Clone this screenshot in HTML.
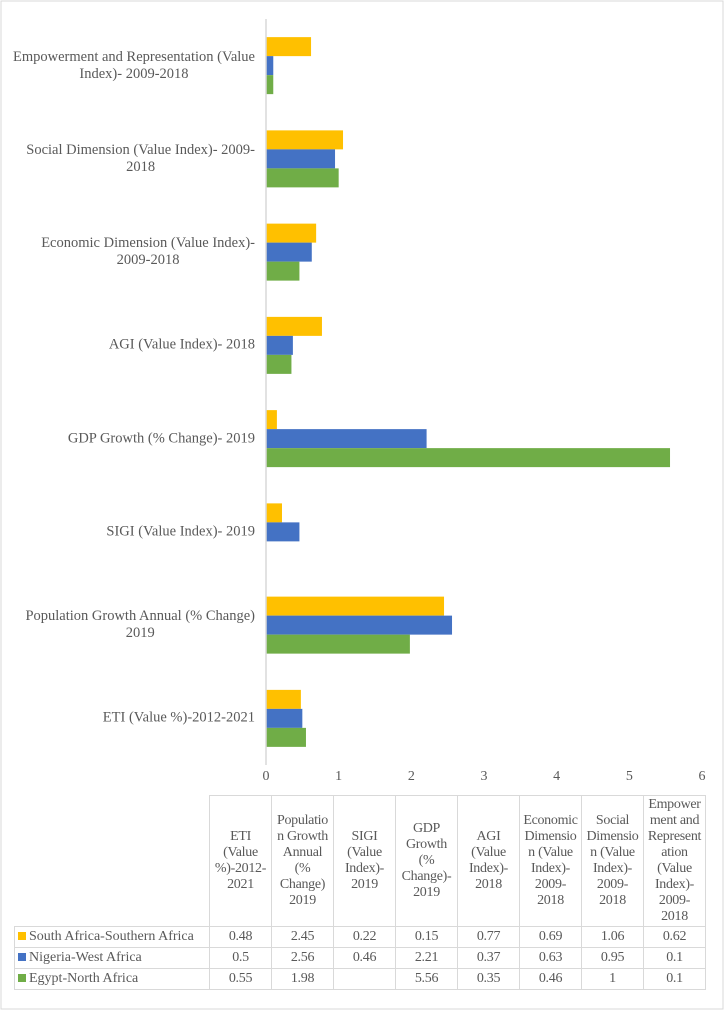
<!DOCTYPE html>
<html><head><meta charset="utf-8"><style>
body{margin:0;background:#fff;font-family:"Liberation Serif",serif;color:#595959}
#wrap{position:relative;width:724px;height:1010px;overflow:hidden}
.cat{position:absolute;right:469px;text-align:center;font-size:14.5px;line-height:17px;transform:translateY(-50%);white-space:nowrap}
table{position:absolute;left:14px;top:795px;border-collapse:collapse;font-size:14px;line-height:16px;table-layout:fixed;width:691px}
td{border:1.5px solid #d9d9d9;text-align:center;padding:0;color:#595959;white-space:nowrap;overflow:visible;letter-spacing:-0.3px}
td.lab{text-align:left;padding-left:3px;letter-spacing:0}
tr.h td{height:130px;vertical-align:middle}
tr.d td{height:20px}
.sw{display:inline-block;width:8px;height:8px;margin-right:3px}
</style></head><body>
<div id="wrap">
<svg id="svg" width="724" height="1010" style="position:absolute;left:0;top:0">
<rect x="1" y="1" width="722" height="1008" fill="none" stroke="#d9d9d9"/>
</svg>
<div id="cats"></div>
<table>
<colgroup><col style="width:195px"><col span="8" style="width:62px"></colgroup>
<tr class="h"><td style="border-top:none;border-left:none"></td><td>ETI<br>(Value<br>%)-2012-<br>2021</td><td>Populatio<br>n Growth<br>Annual<br>(%<br>Change)<br>2019</td><td>SIGI<br>(Value<br>Index)-<br>2019</td><td>GDP<br>Growth<br>(%<br>Change)-<br>2019</td><td>AGI<br>(Value<br>Index)-<br>2018</td><td>Economic<br>Dimensio<br>n (Value<br>Index)-<br>2009-<br>2018</td><td>Social<br>Dimensio<br>n (Value<br>Index)-<br>2009-<br>2018</td><td>Empower<br>ment and<br>Represent<br>ation<br>(Value<br>Index)-<br>2009-<br>2018</td></tr>
<tr class="d"><td class="lab"><span class="sw" style="background:#ffc000"></span>South Africa-Southern Africa</td><td>0.48</td><td>2.45</td><td>0.22</td><td>0.15</td><td>0.77</td><td>0.69</td><td>1.06</td><td>0.62</td></tr>
<tr class="d"><td class="lab"><span class="sw" style="background:#4472c4"></span>Nigeria-West Africa</td><td>0.5</td><td>2.56</td><td>0.46</td><td>2.21</td><td>0.37</td><td>0.63</td><td>0.95</td><td>0.1</td></tr>
<tr class="d"><td class="lab"><span class="sw" style="background:#70ad47"></span>Egypt-North Africa</td><td>0.55</td><td>1.98</td><td></td><td>5.56</td><td>0.35</td><td>0.46</td><td>1</td><td>0.1</td></tr>
</table>
</div>
<script>
const categories=["ETI (Value %)-2012-2021","Population Growth Annual (% Change)<br>2019","SIGI (Value Index)- 2019","GDP Growth (% Change)- 2019","AGI (Value Index)- 2018","Economic Dimension (Value Index)-<br>2009-2018","Social Dimension (Value Index)- 2009-<br>2018","Empowerment and Representation (Value<br>Index)- 2009-2018"];
const southAfrica=[0.48,2.45,0.22,0.15,0.77,0.69,1.06,0.62];
const nigeria=[0.5,2.56,0.46,2.21,0.37,0.63,0.95,0.1];
const egypt=[0.55,1.98,null,5.56,0.35,0.46,1,0.1];
const ticks=[0,1,2,3,4,5,6];
const NS="http://www.w3.org/2000/svg";
const svg=document.getElementById('svg');
const x0=266,x1=702,yTop=19,yBot=765;
const xs=v=>x0+(x1-x0)*v/6;
const band=(yBot-yTop)/categories.length;
const yc=i=>yBot-band*(i+0.5);
const barH=19;
const series=[[southAfrica,"#ffc000","south-africa"],[nigeria,"#4472c4","nigeria"],[egypt,"#70ad47","egypt"]];
categories.forEach((c,i)=>{
  series.forEach((s,k)=>{
    const v=s[0][i]; if(v==null) return;
    const r=document.createElementNS(NS,'rect');
    r.setAttribute('x',x0);r.setAttribute('y',yc(i)-1.5*barH+k*barH);
    r.setAttribute('width',xs(v)-x0);r.setAttribute('height',barH);r.setAttribute('fill',s[1]);
    
    
    svg.appendChild(r);
  });
  const d=document.createElement('div');d.className='cat';d.innerHTML=c;d.style.top=yc(i)+'px';
  
  
  document.getElementById('cats').appendChild(d);
});
const ax=document.createElementNS(NS,'line');
ax.setAttribute('x1',x0);ax.setAttribute('x2',x0);ax.setAttribute('y1',yTop);ax.setAttribute('y2',yBot);
ax.setAttribute('stroke','#d9d9d9');ax.setAttribute('stroke-width','1.5');


svg.appendChild(ax);
ticks.forEach(t=>{
  const tx=document.createElementNS(NS,'text');
  tx.setAttribute('x',xs(t));tx.setAttribute('y',780);tx.setAttribute('text-anchor','middle');
  tx.setAttribute('font-size','14');tx.setAttribute('fill','#595959');tx.setAttribute('font-family','Liberation Serif, serif');
  tx.textContent=t;
  
  
  svg.appendChild(tx);
});
</script>
</body></html>
